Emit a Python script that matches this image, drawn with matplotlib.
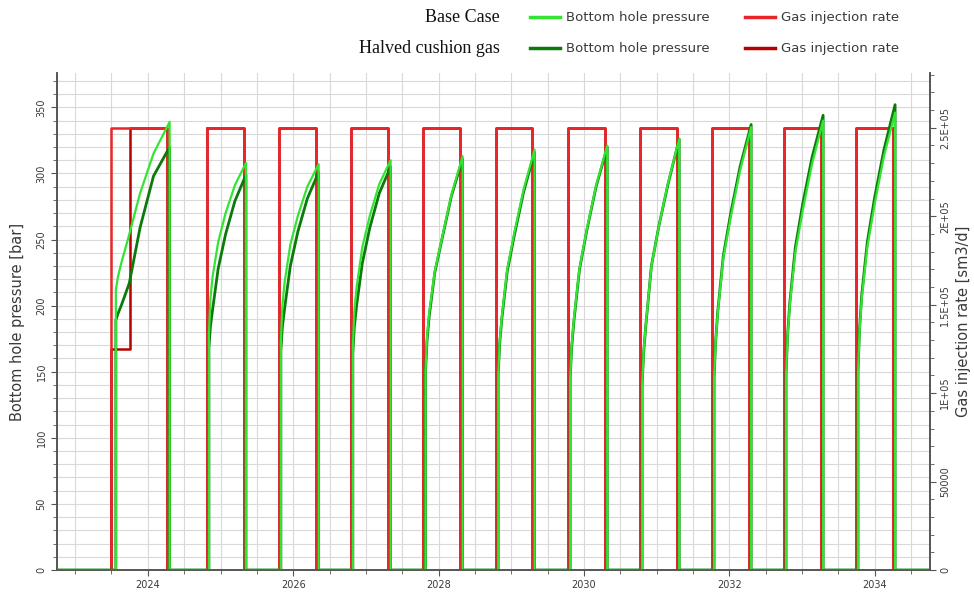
import matplotlib
matplotlib.use("Agg")
import matplotlib.pyplot as plt
from matplotlib.lines import Line2D
from matplotlib.ticker import MultipleLocator, FixedLocator, FixedFormatter

# injection periods (decimal years)
inj_start = [2023.50, 2024.81, 2025.80, 2026.79, 2027.79, 2028.79, 2029.78, 2030.77, 2031.76, 2032.75, 2033.74]
inj_end = [2024.27, 2025.32, 2026.32, 2027.31, 2028.30, 2029.29, 2030.29, 2031.28, 2032.27, 2033.26, 2034.25]
inj_rate = 250000
# halved cushion gas: first season starts at half rate
halved_first_rate = 125000
halved_switch = 2023.76

# bottom hole pressure reported while injecting
bhp_start = [2023.56, 2024.84, 2025.83, 2026.82, 2027.82, 2028.82, 2029.81, 2030.80, 2031.79, 2032.78, 2033.77]
bhp_end = [2024.30, 2025.35, 2026.35, 2027.34, 2028.33, 2029.32, 2030.32, 2031.31, 2032.30, 2033.29, 2034.28]
bhp_frac = [0.0, 0.04, 0.1, 0.25, 0.45, 0.7, 1.0]
bhp_base = [
    [212, 222, 232, 254, 285, 315, 339],
    [178, 205, 222, 248, 270, 291, 308],
    [172, 200, 218, 246, 268, 290, 307],
    [168, 196, 214, 244, 268, 292, 310],
    [150, 176, 195, 226, 252, 284, 313],
    [148, 173, 192, 228, 256, 288, 318],
    [145, 170, 190, 228, 258, 291, 321],
    [140, 165, 186, 230, 260, 293, 326],
    [145, 172, 195, 236, 267, 302, 335],
    [148, 176, 200, 240, 272, 307, 340],
    [150, 180, 205, 244, 277, 313, 346],
]
bhp_halved = [
    [189, 194, 200, 217, 259, 298, 320],
    [168, 184, 197, 228, 254, 279, 299],
    [166, 184, 198, 230, 256, 281, 301],
    [164, 184, 200, 232, 259, 285, 305],
    [150, 173, 192, 225, 251, 283, 311],
    [148, 171, 190, 226, 254, 286, 316],
    [145, 168, 188, 227, 257, 290, 320],
    [140, 164, 185, 230, 260, 292, 326],
    [145, 172, 196, 238, 270, 305, 337],
    [148, 177, 202, 244, 277, 312, 344],
    [150, 182, 208, 248, 282, 318, 352],
]

x_lim = (2022.75, 2034.76)
year_ticks = [2024, 2026, 2028, 2030, 2032, 2034]
rate_ticks = [0, 50000, 100000, 150000, 200000, 250000]
rate_labels = ["0", "50000", "1E+05", "1.5E+05", "2E+05", "2.5E+05"]

c_green = "#33e433"
c_dgreen = "#0a7a0a"
c_red = "#e8262a"
c_dred = "#b80000"
c_text = "#3a3a3a"


def rate_series(first_switch=None):
    xs, ys = [x_lim[0]], [0]
    for i, (s, e) in enumerate(zip(inj_start, inj_end)):
        if i == 0 and first_switch is not None:
            xs += [s, s, first_switch, first_switch, e, e]
            ys += [0, halved_first_rate, halved_first_rate, inj_rate, inj_rate, 0]
        else:
            xs += [s, s, e, e]
            ys += [0, inj_rate, inj_rate, 0]
    xs.append(x_lim[1])
    ys.append(0)
    return xs, ys


def bhp_series(values):
    xs, ys = [x_lim[0]], [0]
    for s, e, p in zip(bhp_start, bhp_end, values):
        t = [s + f * (e - s) for f in bhp_frac]
        xs += [s] + t + [e]
        ys += [0] + list(p) + [0]
    xs.append(x_lim[1])
    ys.append(0)
    return xs, ys


fig = plt.figure(figsize=(9.74, 5.96), dpi=100)
ax = fig.add_axes([0.0585, 0.0436, 0.8963, 0.834])
ax2 = ax.twinx()

ax.set_xlim(*x_lim)
ax.set_ylim(0, 376)
ax2.set_ylim(0, 281000)

# injection rates on right axis (ax2 sits above the gridded left axes)
hx, hy = rate_series(halved_switch)
ax2.plot(hx, hy, color=c_dred, lw=1.8)
bx, by = rate_series()
ax2.plot(bx[:7], by[:7], color=c_red, lw=1.8)
ax2.plot(bx[6:], by[6:], color=c_red, lw=1.8)

# bottom hole pressures use the left-axis scale but are drawn on top
px, py = bhp_series(bhp_halved)
ax2.add_line(Line2D(px, py, color=c_dgreen, lw=2.0, transform=ax.transData))
px, py = bhp_series(bhp_base)
ax2.add_line(Line2D(px, py, color=c_green, lw=1.6, transform=ax.transData))
ax2.set_xlim(*x_lim)
ax2.set_ylim(0, 281000)

ax.xaxis.set_major_locator(FixedLocator(year_ticks))
ax.xaxis.set_major_formatter(FixedFormatter([str(y) for y in year_ticks]))
ax.xaxis.set_minor_locator(MultipleLocator(0.5))
ax.yaxis.set_major_locator(MultipleLocator(50))
ax.yaxis.set_minor_locator(MultipleLocator(10))
ax2.yaxis.set_major_locator(FixedLocator(rate_ticks))
ax2.yaxis.set_major_formatter(FixedFormatter(rate_labels))
ax2.yaxis.set_minor_locator(MultipleLocator(10000))

ax.grid(True, which="both", color="#d9d9d9", lw=0.8)
ax.set_axisbelow(True)

for a in (ax, ax2):
    a.spines["top"].set_visible(False)
    for s in ("left", "right", "bottom"):
        a.spines[s].set_color("#555555")
        a.spines[s].set_linewidth(1.2)
    a.tick_params(which="both", colors="#555555", labelcolor=c_text, labelsize=7)
    a.tick_params(which="major", length=4)
    a.tick_params(which="minor", length=3)

for lbl in ax.get_yticklabels() + ax2.get_yticklabels():
    lbl.set_rotation(90)
    lbl.set_va("center")

ax.set_ylabel("Bottom hole pressure [bar]", fontsize=10.5, color=c_text, labelpad=8)
ax2.set_ylabel("Gas injection rate [sm3/d]", fontsize=10.5, color=c_text, rotation=90, labelpad=4)

# legend drawn in figure coordinates
rows = [("Base Case", c_green, c_red, 0.971), ("Halved cushion gas", c_dgreen, c_dred, 0.919)]
for name, gcol, rcol, yy in rows:
    fig.text(0.513, yy, name, ha="right", va="center", fontsize=13,
             family="Liberation Serif", color="#111111")
    fig.add_artist(Line2D([0.544, 0.575], [yy, yy], color=gcol, lw=2.5))
    fig.text(0.581, yy, "Bottom hole pressure", ha="left", va="center", fontsize=9.5, color=c_text)
    fig.add_artist(Line2D([0.765, 0.796], [yy, yy], color=rcol, lw=2.5))
    fig.text(0.802, yy, "Gas injection rate", ha="left", va="center", fontsize=9.5, color=c_text)

fig.savefig("out.png", dpi=100)
